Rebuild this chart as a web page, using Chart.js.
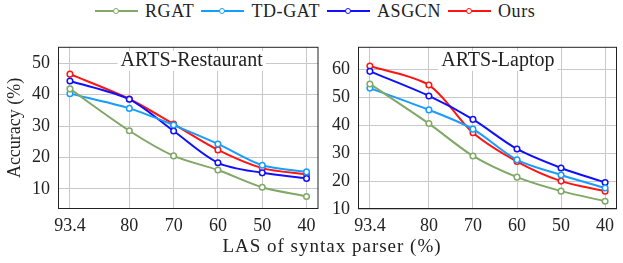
<!DOCTYPE html>
<html>
<head>
<meta charset="utf-8">
<script src="https://cdn.jsdelivr.net/npm/chart.js@4.4.0/dist/chart.umd.min.js"></script>
<style>
  body { margin: 0; background: #fff; font-family: "Liberation Serif", serif; }
  #wrap { position: relative; width: 623px; height: 263px; overflow: hidden; }
  canvas { position: absolute; }
  #legend { position: absolute; left: 95px; top: 0; height: 22px; display: flex; align-items: center; font-size: 18px; letter-spacing: 0.6px; color: #222; }
  .item { display: flex; align-items: center; margin-right: 7px; }
  .swatch { position: relative; width: 43px; height: 2px; margin-right: 7px; }
  .swatch span { position: absolute; left: 18px; top: -2.5px; width: 4px; height: 4px; border-radius: 50%; background: #fff; border: 1.5px solid; }
  #xtitle { position: absolute; left: 0; width: 664px; top: 235px; text-align: center; font-size: 19px; letter-spacing: 1px; color: #222; }
</style>
</head>
<body>
<div id="wrap">
  <div id="legend"></div>
  <canvas id="left" width="324" height="210" style="left:0;top:28px;width:324px;height:210px"></canvas>
  <canvas id="right" width="301" height="210" style="left:322px;top:28px;width:301px;height:210px"></canvas>
  <div id="xtitle">LAS of syntax parser (%)</div>
</div>
<script>
const las = [93.4, 80, 70, 60, 50, 40];
const names = ['RGAT', 'TD-GAT', 'ASGCN', 'Ours'];
const colors = ['#80a866', '#179cff', '#1010ff', '#ff1414'];

const restRGAT = [41.8, 28.5, 20.5, 16.0, 10.5, 7.6];
const restTDGAT = [40.3, 35.6, 30.3, 24.3, 17.5, 15.4];
const restASGCN = [44.3, 38.5, 28.4, 18.3, 15.1, 13.3];
const restOurs = [46.5, 38.6, 30.6, 22.4, 16.6, 14.6];

const lapRGAT = [54.8, 40.6, 29.0, 21.4, 16.4, 12.8];
const lapTDGAT = [53.3, 45.5, 38.6, 27.6, 22.2, 17.5];
const lapASGCN = [59.3, 50.5, 42.1, 31.5, 24.7, 19.5];
const lapOurs = [61.2, 54.4, 37.3, 27.0, 20.0, 16.4];

const restTicks = [10, 20, 30, 40, 50];
const lapTicks = [10, 20, 30, 40, 50, 60];

// legend
const legend = document.getElementById('legend');
names.forEach((n, i) => {
  const it = document.createElement('div');
  it.className = 'item';
  it.innerHTML = '<div class="swatch" style="background:' + colors[i] + '"><span style="border-color:' + colors[i] + '"></span></div>' + n;
  legend.appendChild(it);
});

const FONT = 'Liberation Serif';

const framePlugin = {
  id: 'frame',
  afterDraw(chart, args, opts) {
    const a = chart.chartArea, ctx = chart.ctx;
    ctx.save();
    ctx.strokeStyle = '#222';
    ctx.lineWidth = 1;
    ctx.strokeRect(a.left + 0.5, a.top + 0.5, a.right - a.left - 1, a.bottom - a.top - 1);
    ctx.restore();
  },
  beforeDatasetsDraw(chart, args, opts) {
    const a = chart.chartArea, ctx = chart.ctx;
    ctx.save();
    ctx.font = '20px "' + FONT + '"';
    const w = ctx.measureText(opts.text).width;
    const x = a.left + opts.pos * (a.right - a.left);
    const y = a.top + 14;
    ctx.fillStyle = '#fff';
    ctx.fillRect(x - w / 2 - 3, y - 10, w + 6, 20);
    ctx.fillStyle = '#222';
    ctx.textAlign = 'center';
    ctx.textBaseline = 'middle';
    ctx.fillText(opts.text, x, y);
    ctx.restore();
  }
};

function makeChart(id, series, yTicks, yMin, yMax, title, titlePos, yWidth, withTitle, padRight) {
  return new Chart(document.getElementById(id), {
    type: 'line',
    data: {
      datasets: series.map((s, i) => ({
        label: names[i],
        data: las.map((x, j) => ({x: x, y: s[j]})),
        borderColor: colors[i],
        backgroundColor: '#fff',
        borderWidth: 2,
        pointRadius: 2.8,
        pointBorderWidth: 1.5,
        pointBackgroundColor: '#fff',
        pointBorderColor: colors[i],
        tension: 0.3
      }))
    },
    options: {
      responsive: false,
      animation: false,
      layout: {padding: {top: 9, right: padRight, left: 0, bottom: 0}},
      plugins: {
        legend: {display: false},
        tooltip: {enabled: false},
        frame: {text: title, pos: titlePos}
      },
      scales: {
        x: {
          type: 'linear',
          reverse: true,
          min: 37.3,
          max: 96.1,
          afterBuildTicks: s => { s.ticks = las.map(v => ({value: v})); },
          afterFit: s => { s.height = 29; },
          grid: {color: '#c8c8c8', drawTicks: false},
          border: {display: false},
          ticks: {
            padding: 6,
            color: '#222',
            font: {family: FONT, size: 18},
            maxRotation: 0,
            callback: v => String(v)
          }
        },
        y: {
          min: yMin,
          max: yMax,
          afterBuildTicks: s => { s.ticks = yTicks.map(v => ({value: v})); },
          afterFit: s => { s.width = yWidth; },
          grid: {color: '#c8c8c8', drawTicks: false},
          border: {display: false},
          title: {
            display: withTitle,
            text: 'Accuracy (%)',
            color: '#222',
            font: {family: FONT, size: 18},
            padding: {top: 4, bottom: 0}
          },
          ticks: {
            padding: 8,
            color: '#222',
            font: {family: FONT, size: 18}
          }
        }
      }
    },
    plugins: [framePlugin]
  });
}

makeChart('left', [restRGAT, restTDGAT, restASGCN, restOurs], restTicks, 3.6, 55.2,
  'ARTS-Restaurant', 0.513, 58, true, 5);
makeChart('right', [lapRGAT, lapTDGAT, lapASGCN, lapOurs], lapTicks, 10, 68.1,
  'ARTS-Laptop', 0.54, 36, false, 6);
</script>
</body>
</html>
